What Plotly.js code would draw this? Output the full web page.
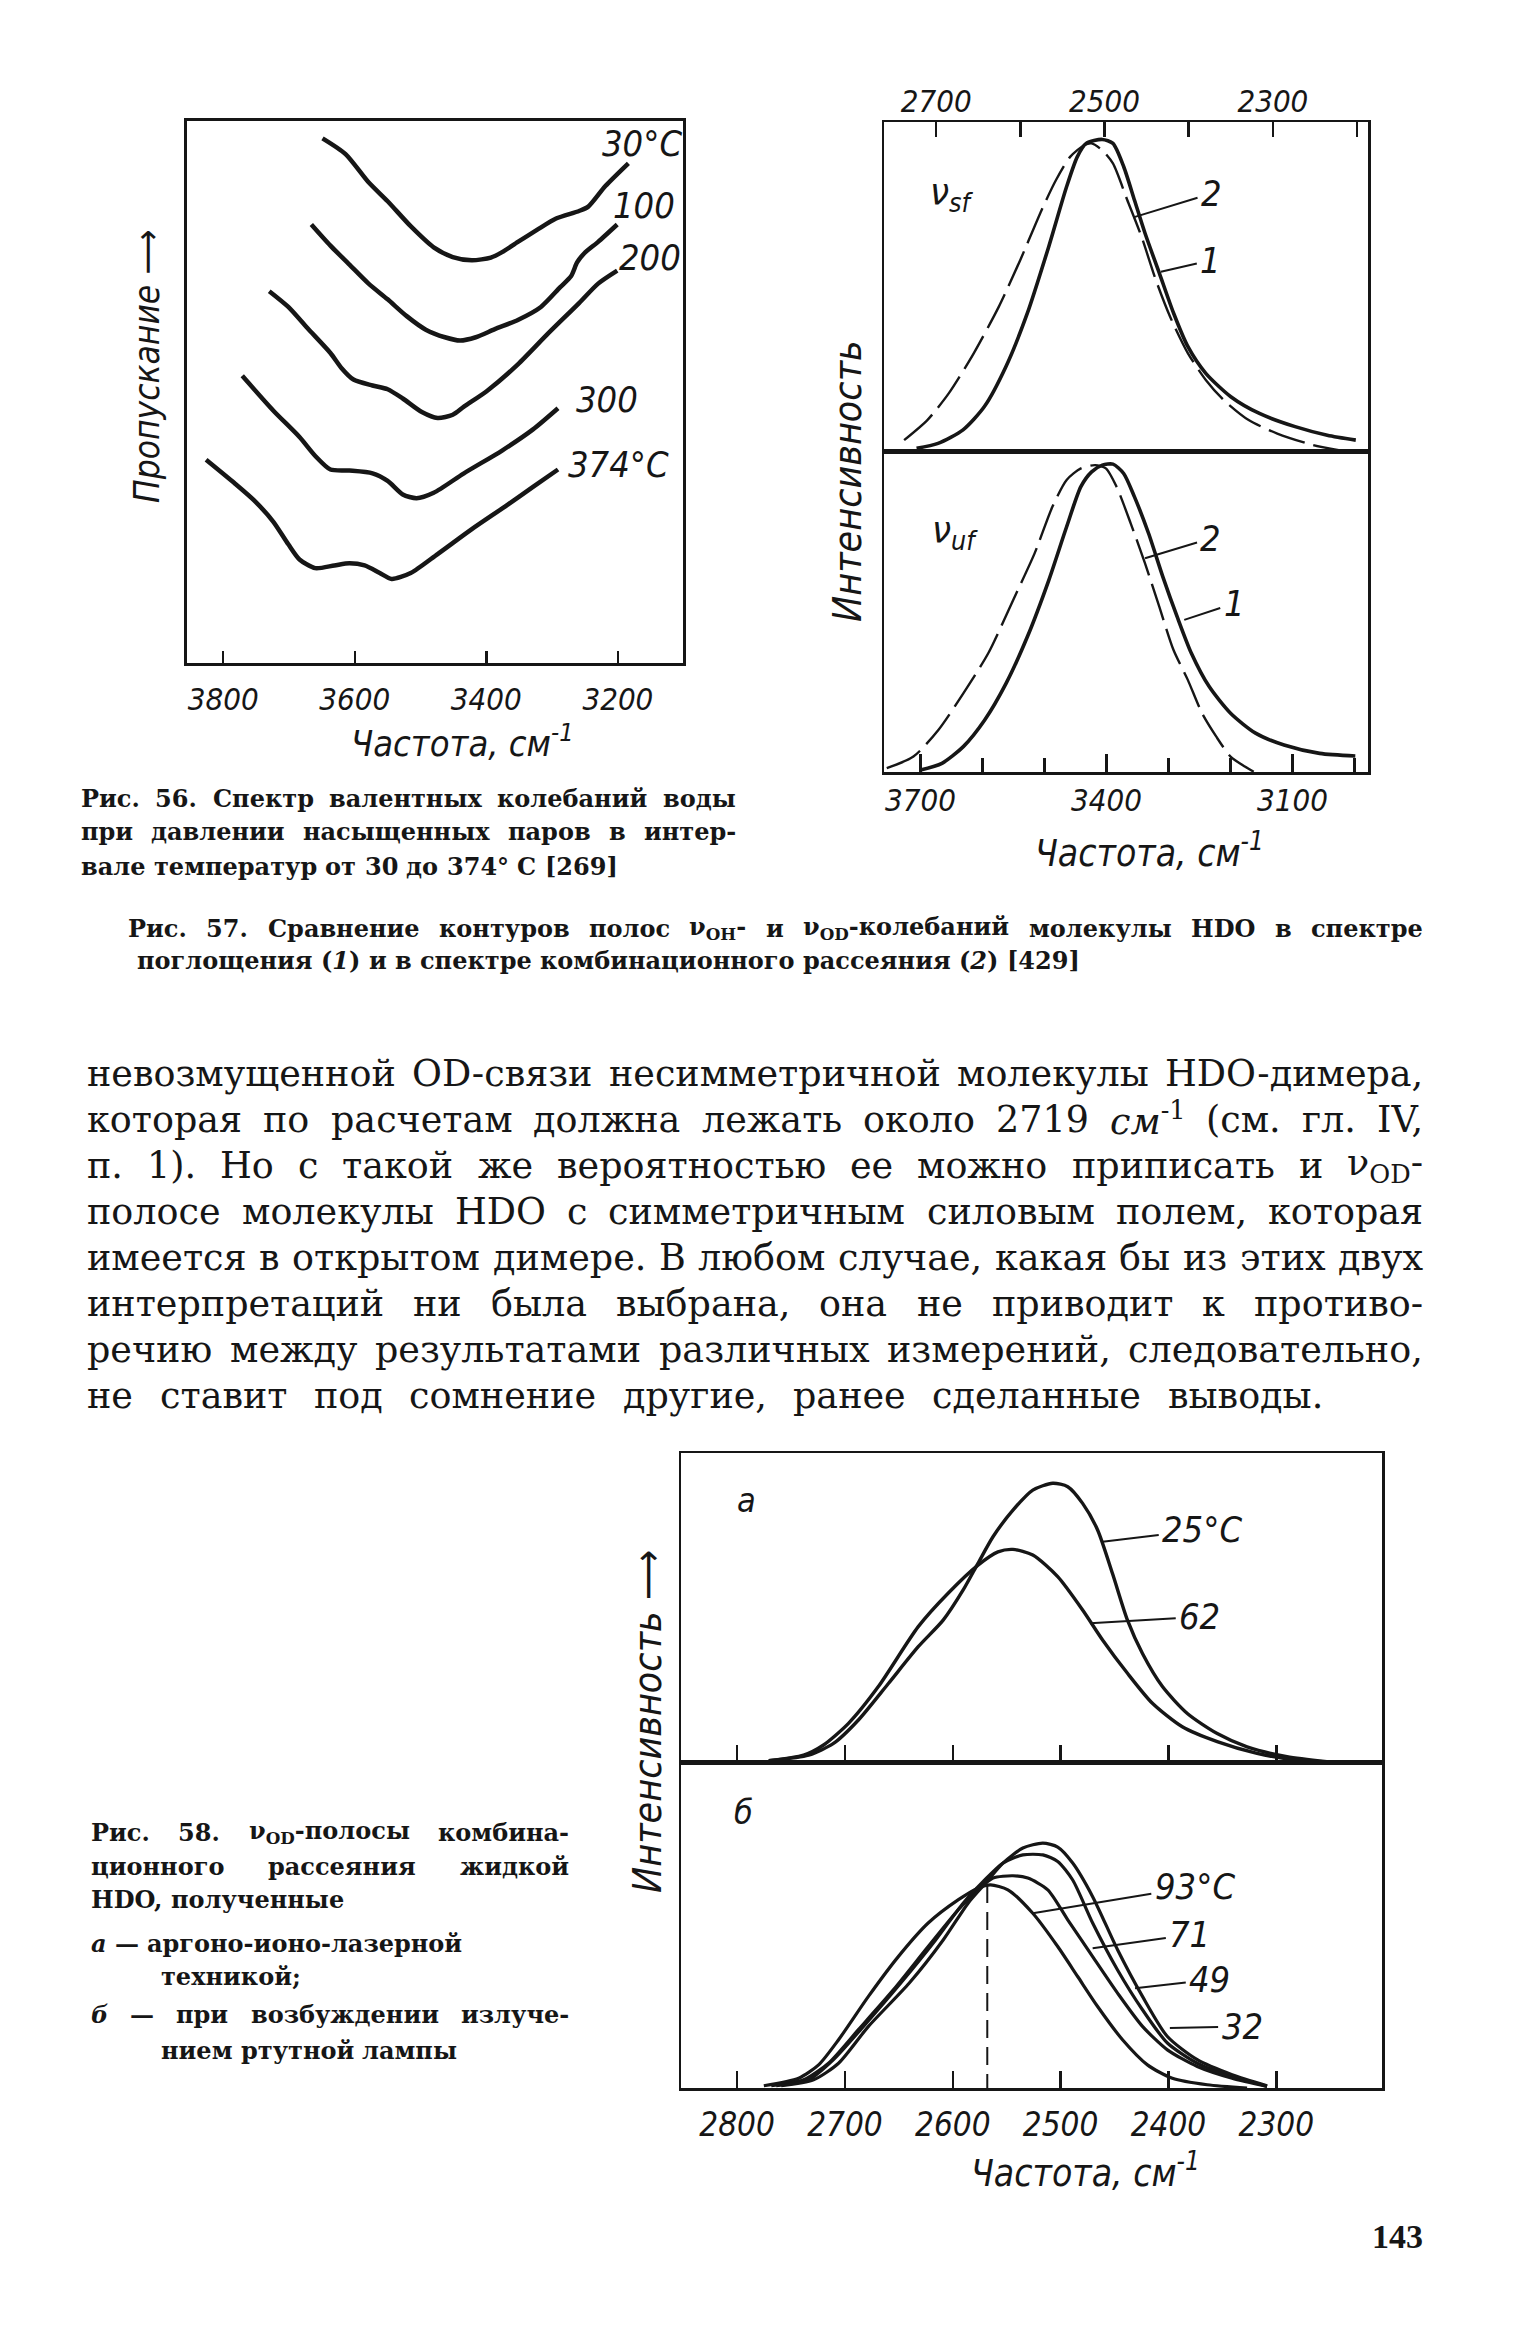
<!DOCTYPE html>
<html><head><meta charset="utf-8">
<script src="https://cdn.plot.ly/plotly-3.0.1.min.js"></script>
<style>html,body{margin:0;padding:0;background:#fff;}#page{width:1530px;height:2333px;}</style>
</head><body><div id="page"></div>
<script>
// ---------------- DATA ----------------
// Fig. 56: transmission (arb. units) vs frequency, cm-1
const fig56_temps = ['30°C','100','200','300','374°C'];
const fig56_nu_30 = [3649,3614,3579,3550,3515,3480,3451,3422,3393,3376,3352,3323,3294,3259,3245,3219,3184];
const fig56_T_30  = [96.8,93.9,88.7,85.2,80.6,76.7,74.9,74.3,74.8,75.8,77.7,79.9,82,83.4,84.2,88,92.2];
const fig56_nu_100 = [3666,3637,3608,3579,3550,3521,3492,3463,3440,3416,3387,3352,3317,3288,3271,3262,3251,3230,3201];
const fig56_T_100  = [80.9,77,73.5,70,67.1,64,61.5,60.1,59.5,60.1,61.6,63.3,65.7,69.3,71.4,73.9,75.6,77.7,80.9];
const fig56_nu_200 = [3730,3701,3672,3637,3620,3602,3573,3550,3527,3498,3474,3451,3434,3399,3352,3306,3259,3230,3201];
const fig56_T_200  = [68.6,65.7,61.8,57.2,54.4,52.3,51.2,50.5,48.8,46.3,45.2,45.8,47.3,50.2,55.1,60.8,66.4,70,72.4];
const fig56_nu_300 = [3771,3724,3684,3660,3637,3608,3573,3550,3527,3506,3480,3434,3376,3329,3291];
const fig56_T_300  = [53,46.6,41.7,38.2,35.7,35.5,35,33.6,31.1,30.4,31.4,35,39.2,43.1,47];
const fig56_nu_374 = [3826,3783,3753,3724,3701,3684,3660,3631,3608,3585,3562,3544,3515,3474,3422,3370,3329,3291];
const fig56_T_374  = [37.5,33.2,30,26.1,21.9,19.1,17.5,18,18.4,18,16.6,15.5,16.6,20.1,24.7,29,32.5,35.7];
const fig56_tickvals = [3800,3600,3400,3200];
const fig56_ticktext = ['3800','3600','3400','3200'];

// Fig. 57: nu_OD (sf, top) and nu_OH (uf, bottom); 1 = absorption (solid), 2 = Raman (dashed)
const fig57_sf_nu_1 = [2723.3,2697.8,2668.1,2642.7,2617.2,2591.8,2566.3,2545.1,2532.4,2521.8,2502.7,2490,2477.2,2464.5,2451.8,2434.8,2417.8,2400.9,2379.7,2350,2316,2273.6,2235.4,2201.5];
const fig57_sf_I_1  = [0.8,2.3,6.4,13.5,25.6,41.8,62.1,80.3,89.4,93.5,94.7,93.5,86.4,76.3,66.1,54,41.8,31.7,23.6,16.5,11.4,7.4,4.8,3.3];
const fig57_sf_nu_2 = [2738.1,2710.5,2685.1,2655.4,2625.7,2600.2,2574.8,2557.8,2540.9,2523.9,2515.4,2502.7,2490,2473,2456,2439.1,2422.1,2400.9,2379.7,2358.5,2328.8,2294.8,2252.4,2218.5];
const fig57_sf_I_2  = [3.3,9.4,17.5,29.7,43.8,58,73.2,82.3,89.4,93,93.5,91.4,87.4,76.3,65.1,52,40.8,29.7,21.6,15.5,9.4,5.3,1.8,0.1];
const fig57_uf_nu_1 = [3700,3665.5,3631,3596.5,3562,3527.5,3493,3464.3,3441.3,3424,3406.8,3389.5,3372.3,3355,3332,3309,3286,3263,3234.3,3199.8,3159.5,3113.5,3056,2998.5];
const fig57_uf_I_1  = [0.6,2.7,7.9,16.2,27.6,42.2,59.8,76.4,88.9,93.5,95.6,95.9,93,85.8,74.3,60.8,48.4,37,26.6,18.3,12.1,8.4,5.8,5];
const fig57_uf_nu_2 = [3754.6,3711.5,3671.3,3631,3590.8,3550.5,3516,3487.3,3464.3,3441.3,3418.3,3401,3383.8,3360.8,3337.8,3314.8,3291.8,3268.8,3245.8,3222.8,3199.8,3176.8,3162.4];
const fig57_uf_I_2  = [1.2,4.8,13.1,24.5,37,53.6,68.1,82.6,91,94.6,95.6,94.6,88.9,77.4,65,51.5,38,28.7,18.3,11,4.8,1.7,0.1];
const fig57_top_tickvals = [2700,2500,2300];
const fig57_top_ticktext = ['2700','2500','2300'];
const fig57_top_minor = [2600,2400,2200];
const fig57_bot_tickvals = [3700,3400,3100];
const fig57_bot_ticktext = ['3700','3400','3100'];
const fig57_bot_minor = [3600,3500,3300,3200,3000];

// Fig. 58a: 25 and 62 °C
const fig58a_nu_25 = [2770.6,2733.7,2710.6,2687.5,2659.7,2632,2608.9,2590.5,2576.6,2562.7,2544.2,2525.8,2507.3,2493.4,2479.6,2465.7,2451.9,2438,2424.1,2405.6,2382.5,2354.8,2327.1,2290.1,2253.2];
const fig58a_I_25  = [0.4,2.2,6,13.6,25.4,37.3,45.9,55.6,64.3,72.9,81.5,88,90.2,89.1,83.7,75.1,61,45.9,35.1,24.4,15.7,9.2,4.9,1.7,0.1];
const fig58a_nu_62 = [2770.6,2738.3,2719.8,2696.7,2669,2632,2604.3,2576.6,2558.1,2544.2,2525.8,2502.7,2479.6,2461.1,2438,2414.9,2387.2,2354.8,2317.9,2280.9,2244];
const fig58a_I_62  = [0.4,2.2,5.5,12.5,24.4,43.8,54.6,63.7,68,68.8,67,60,49.2,39.5,28.7,19,11.4,6.6,2.8,0.6,0];
// Fig. 58б: 93, 71, 49, 32 °C
const fig58b_nu_93 = [2775.2,2742.9,2724.4,2705.9,2678.2,2650.5,2622.8,2595.1,2576.6,2565,2548.9,2525.8,2502.7,2484.2,2465.7,2442.6,2419.5,2396.4,2364.1,2327.1];
const fig58b_I_93  = [0.7,3,7.1,14.8,28.1,40.3,50.6,57.7,61.3,62.3,60.8,53.6,43.4,34.2,25,14.8,7.1,3,1,0];
const fig58b_nu_71 = [2768.3,2738.3,2715.2,2687.5,2655.1,2622.8,2595.1,2576.6,2562.7,2544.2,2530.4,2511.9,2493.4,2470.3,2447.2,2424.1,2401,2373.3,2341,2308.6];
const fig58b_I_71  = [0.7,2.5,7.6,17.9,30.1,43.4,54.6,60.8,64.4,65.1,64.4,60.8,51.6,40.3,29.1,18.9,11.7,6.6,3,0.5];
const fig58b_nu_49 = [2763.7,2733.7,2710.6,2682.8,2648.2,2615.9,2590.4,2571.9,2553.5,2535,2516.5,2502.7,2488.8,2470.3,2447.2,2424.1,2401,2373.3,2341,2308.6];
const fig58b_I_49  = [0.7,2.5,8.7,18.9,32.2,45.4,56.7,63.3,69,71.5,71.5,69.5,63.8,50.6,36.2,24,13.8,7.6,3.5,0.5];
const fig58b_nu_32 = [2759.1,2729.1,2705.9,2678.2,2640.3,2608.9,2585.8,2569.7,2553.5,2535,2516.5,2502.7,2488.8,2470.3,2447.2,2424.1,2401,2373.3,2341,2308.6];
const fig58b_I_32  = [0.7,2.5,7.6,18.9,32.2,45.4,56.7,62.8,69,73.6,75.1,73.9,69,58.7,42.4,28.1,15.8,8.7,4.1,0.7];
const fig58b_mark_nu = [2568,2568];
const fig58b_mark_I  = [62.3,0];
const fig58_tickvals = [2800,2700,2600,2500,2400,2300];
const fig58_ticktext = ['2800','2700','2600','2500','2400','2300'];

// Texts
const fig56_caption = ['Рис. 56. Спектр валентных колебаний воды','при давлении насыщенных паров в интер-','вале температур от 30 до 374° С [269]'];
const fig57_caption = ['Рис. 57. Сравнение контуров полос ν<sub>OH</sub>- и ν<sub>OD</sub>-колебаний молекулы HDO в спектре','поглощения (<i>1</i>) и в спектре комбинационного рассеяния (<i>2</i>) [429]'];
const body_lines = [
 'невозмущенной OD-связи несимметричной молекулы HDO-димера,',
 'которая по расчетам должна лежать около 2719 <i>см</i><sup>-1</sup> (см. гл. IV,',
 'п. 1). Но с такой же вероятностью ее можно приписать и ν<sub>OD</sub>-',
 'полосе молекулы HDO с симметричным силовым полем, которая',
 'имеется в открытом димере. В любом случае, какая бы из этих двух',
 'интерпретаций ни была выбрана, она не приводит к противо-',
 'речию между результатами различных измерений, следовательно,',
 'не ставит под сомнение другие, ранее сделанные выводы.'];
const fig58_caption = ['Рис. 58. ν<sub>OD</sub>-полосы комбина-','ционного рассеяния жидкой','HDO, полученные','<i>а</i> — аргоно-ионо-лазерной','техникой;','<i>б</i> — при возбуждении излуче-','нием ртутной лампы'];

// ---------------- DRAWING ----------------
const W=1530, H=2333;
const px=v=>v/W, py=v=>1-v/H;
const INK='#161616';
const NARROW='"Liberation Sans Narrow","DejaVu Sans Condensed",Roboto,"DejaVu Sans",sans-serif';
const SERIF='"DejaVu Serif","Liberation Serif",serif';
const lbl=s=>({family:NARROW,size:s,color:INK,style:'italic'});

const traces=[];
function curve(xs,ys,xa,ya,width,dash){
  traces.push({type:'scatter',mode:'lines',x:xs,y:ys,xaxis:xa,yaxis:ya,
    line:{color:INK,width:width,shape:'spline',smoothing:0.7,dash:dash||'solid'},hoverinfo:'skip',showlegend:false});
}
curve(fig56_nu_30,fig56_T_30,'x','y',4.5);
curve(fig56_nu_100,fig56_T_100,'x','y',4.5);
curve(fig56_nu_200,fig56_T_200,'x','y',4.5);
curve(fig56_nu_300,fig56_T_300,'x','y',4.5);
curve(fig56_nu_374,fig56_T_374,'x','y',4.5);
curve(fig57_sf_nu_1,fig57_sf_I_1,'x2','y2',3.6);
curve(fig57_sf_nu_2,fig57_sf_I_2,'x2','y2',2.4,'38px,9px');
curve(fig57_uf_nu_1,fig57_uf_I_1,'x3','y3',3.6);
curve(fig57_uf_nu_2,fig57_uf_I_2,'x3','y3',2.4,'38px,9px');
curve(fig58a_nu_25,fig58a_I_25,'x4','y4',3.4);
curve(fig58a_nu_62,fig58a_I_62,'x4','y4',3.4);
curve(fig58b_nu_93,fig58b_I_93,'x5','y5',3.2);
curve(fig58b_nu_71,fig58b_I_71,'x5','y5',3.2);
curve(fig58b_nu_49,fig58b_I_49,'x5','y5',3.2);
curve(fig58b_nu_32,fig58b_I_32,'x5','y5',3.2);
traces.push({type:'scatter',mode:'lines',x:fig58b_mark_nu,y:fig58b_mark_I,xaxis:'x5',yaxis:'y5',
  line:{color:INK,width:2,dash:'18px,9px'},hoverinfo:'skip',showlegend:false});

function frame(o){return Object.assign({showgrid:false,zeroline:false,showline:true,mirror:true,linecolor:INK,linewidth:2.5,fixedrange:true,tickcolor:INK,tickwidth:2.5},o);}
const noTicks={ticks:'',showticklabels:false,range:[0,100]};
const minor=(vals,len)=>({tickmode:'array',tickvals:vals,ticks:'inside',ticklen:len,tickwidth:2.5,tickcolor:INK,showgrid:false});

const layout={width:W,height:H,margin:{l:0,r:0,t:0,b:0},paper_bgcolor:'#fff',plot_bgcolor:'rgba(0,0,0,0)',showlegend:false,
  xaxis:frame({domain:[px(187),px(683)],anchor:'y',range:[3855,3101],tickmode:'array',tickvals:fig56_tickvals,ticktext:fig56_ticktext,ticks:'inside',ticklen:12,tickfont:lbl(31),ticklabelstandoff:7,linewidth:3}),
  yaxis:frame(Object.assign({domain:[py(663),py(121)],anchor:'x',linewidth:3},noTicks)),
  xaxis2:frame({domain:[px(884),px(1368)],anchor:'y2',side:'top',range:[2762,2187],tickmode:'array',tickvals:fig57_top_tickvals,ticktext:fig57_top_ticktext,ticks:'inside',ticklen:15,tickfont:lbl(31),ticklabelstandoff:-5,minor:minor(fig57_top_minor,15)}),
  yaxis2:frame(Object.assign({domain:[py(451),py(122)],anchor:'x2'},noTicks)),
  xaxis3:frame({domain:[px(884),px(1368)],anchor:'y3',range:[3759,2978],tickmode:'array',tickvals:fig57_bot_tickvals,ticktext:fig57_bot_ticktext,ticks:'inside',ticklen:18,tickfont:lbl(31),ticklabelstandoff:-1,minor:minor(fig57_bot_minor,14)}),
  yaxis3:frame(Object.assign({domain:[py(772),py(451)],anchor:'x3'},noTicks)),
  xaxis4:frame({domain:[px(681),px(1382)],anchor:'y4',range:[2852,2202],tickmode:'array',tickvals:fig58_tickvals,ticks:'inside',ticklen:17,showticklabels:false}),
  yaxis4:frame(Object.assign({domain:[py(1762),py(1453)],anchor:'x4'},noTicks)),
  xaxis5:frame({domain:[px(681),px(1382)],anchor:'y5',range:[2852,2202],tickmode:'array',tickvals:fig58_tickvals,ticktext:fig58_ticktext,ticks:'inside',ticklen:17,tickfont:lbl(33),ticklabelstandoff:6}),
  yaxis5:frame(Object.assign({domain:[py(2088),py(1762)],anchor:'x5'},noTicks)),
  annotations:[]};
const ann=layout.annotations;

function paperText(text,x,y,font,opts){ann.push(Object.assign({xref:'paper',yref:'paper',x:px(x),y:py(y),text:text,showarrow:false,font:font,xanchor:'center',yanchor:'middle',borderpad:0},opts||{}));}
function dataText(text,xa,ya,x,y,font){ann.push({xref:xa,yref:ya,x:x,y:y,text:text,showarrow:false,font:font,xanchor:'center',yanchor:'middle'});}
function leader(text,xa,ya,tx,ty,lx,ly,font){ann.push({xref:xa,yref:ya,axref:xa,ayref:ya,x:tx,y:ty,ax:lx,ay:ly,text:text,showarrow:true,arrowhead:0,arrowwidth:2,arrowcolor:INK,standoff:0,startstandoff:2,font:font});}

// Fig 56 labels
const L=lbl(36);
const f56pos=[[3163,95.8],[3160,84.5],[3151,74.9],[3217,48.7],[3199,36.7]];
fig56_temps.forEach((t,i)=>dataText(t,'x','y',f56pos[i][0],f56pos[i][1],L));
paperText('Пропускание ⟶',147,367,lbl(35),{textangle:-90});
paperText('Частота, см<sup>-1</sup>',462,741,lbl(36));

// Fig 57 labels
dataText('ν<sub>sf</sub>','x2','y2',2681,78.3,lbl(38));
leader('2','x2','y2',2465.7,71,2373,78.3,L);
leader('1','x2','y2',2433,54.5,2373.8,58,L);
dataText('ν<sub>uf</sub>','x3','y3',3645,74.9,lbl(38));
leader('2','x3','y3',3337.8,66.6,3231.4,72.8,L);
leader('1','x3','y3',3274.5,47.4,3194,52.5,L);
paperText('Интенсивность',848,481,lbl(39),{textangle:-90});
paperText('Частота, см<sup>-1</sup>',1149,850,lbl(37));

// Fig 58 labels
dataText('а','x4','y4',2791,84.8,lbl(34));
dataText('б','x5','y5',2794,84.7,lbl(34));
leader('25°C','x4','y4',2461.1,71.3,2368.7,75.1,L);
leader('62','x4','y4',2472.6,44.9,2371,47,L);
leader('93°C','x5','y5',2525.8,53.6,2375.6,61.8,L);
leader('71','x5','y5',2470.3,42.9,2380.2,47,L);
leader('49','x5','y5',2431,30.6,2361.7,33.2,L);
leader('32','x5','y5',2398.7,18.4,2331.7,18.9,L);
paperText('Интенсивность ⟶',647,1722,lbl(39),{textangle:-90});
paperText('Частота, см<sup>-1</sup>',1085,2170,lbl(37));

// --- justified text helper (measures words on a canvas, then spreads them) ---
const ctx=document.createElement('canvas').getContext('2d');
function mw(t,size,f,ital){ctx.font=(ital?'italic ':'')+(f.weight||'normal')+' '+size+'px '+f.family;return ctx.measureText(t).width;}
function measureHTML(s,f){
  let w=0,last=0,m;const re=/<(sup|sub|i)>(.*?)<\/\1>/g;
  while((m=re.exec(s))){w+=mw(s.slice(last,m.index),f.size,f,false);
    w+= m[1]==='i'? mw(m[2],f.size,f,true) : mw(m[2],f.size*0.7,f,false); last=re.lastIndex;}
  return w+mw(s.slice(last),f.size,f,false);
}
function textLine(line,x0,x1,y,f,justify){
  const words=line.split(' ').filter(Boolean);
  const ws=words.map(w=>measureHTML(w,f));
  const sum=ws.reduce((a,b)=>a+b,0);
  const sp=mw(' ',f.size,f,false);
  let gap=sp;
  if(justify&&words.length>1){gap=(x1-x0-sum)/(words.length-1); if(gap<sp*0.5)gap=sp*0.5;}
  let x=x0;
  words.forEach((w,i)=>{ann.push({xref:'paper',yref:'paper',x:px(x),y:py(y),xanchor:'left',yanchor:'middle',text:w,showarrow:false,borderpad:0,
     font:{family:f.family,size:f.size,color:INK,weight:f.weight||'normal'}});x+=ws[i]+gap;});
}
const CAP={family:SERIF,size:24,weight:'bold'};
const BODY={family:SERIF,size:36.5,weight:'normal'};
textLine(fig56_caption[0],80,735,798,CAP,true);
textLine(fig56_caption[1],80,735,832,CAP,true);
textLine(fig56_caption[2],80,735,866,CAP,false);
textLine(fig57_caption[0],127,1422,928,CAP,true);
textLine(fig57_caption[1],136,1422,961,CAP,false);
body_lines.forEach((l,i)=>{const last=i===body_lines.length-1;textLine(l,86,last?1322:1422,1073+46*i,BODY,true);});
const f58y=[1832,1866,1900,1943,1976,2014,2050];
const f58x=[90,90,90,90,160,90,160];
const f58j=[true,true,false,false,false,true,false];
fig58_caption.forEach((l,i)=>textLine(l,f58x[i],568,f58y[i],CAP,f58j[i]));

paperText('143',1397,2236,{family:'"Liberation Serif",serif',size:34,color:INK,weight:'bold'});

Plotly.newPlot('page',traces,layout,{staticPlot:true,displayModeBar:false});
</script></body></html>
